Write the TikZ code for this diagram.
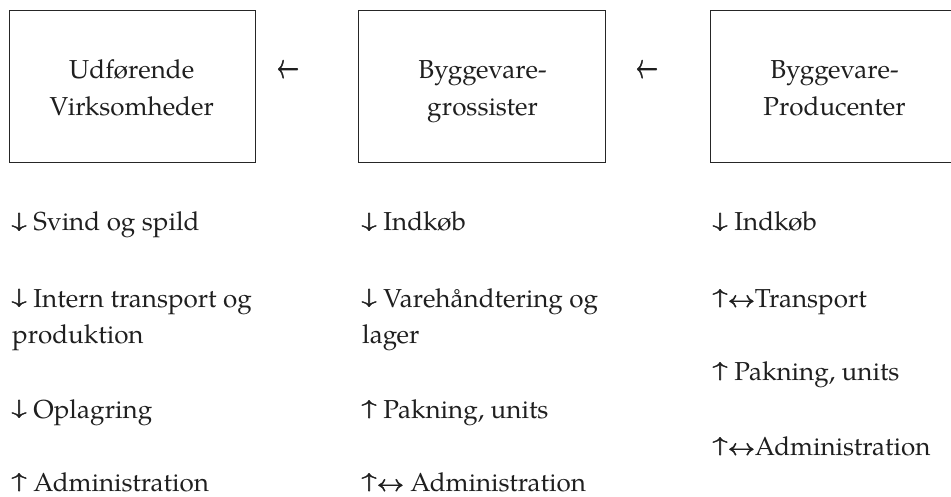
\documentclass[tikz,border=0pt]{standalone}
\usepackage{fontspec}
\usepackage{graphicx}
\setmainfont{texgyrepagella}[Extension=.otf, UprightFont=*-regular, BoldFont=*-bold, ItalicFont=*-italic, BoldItalicFont=*-bolditalic]
\newfontfamily\arrfont{latinmodern-math.otf}[FakeBold=2]
% vertical arrows sitting on the baseline, about cap height tall
\newcommand\adn{\raisebox{3.9pt}{\scalebox{1.55}[1]{\arrfont\fontsize{20.3}{20}\selectfont ↓}}}
\newcommand\aup{\raisebox{3.9pt}{\scalebox{1.55}[1]{\arrfont\fontsize{20.3}{20}\selectfont ↑}}}
\newcommand\alr{\scalebox{1}[0.85]{\arrfont\fontsize{27}{30}\selectfont ↔}}
\newcommand\alf{\scalebox{1}[1.6]{\arrfont\fontsize{22}{24}\selectfont ←}}
\tikzset{
  box/.style={draw=black!85, line width=1.1pt, minimum width=246.5pt, minimum height=152pt, inner sep=0pt, anchor=north west},
  lbl/.style={font=\fontsize{26}{36}\selectfont, inner sep=0pt, anchor=base, text=black!88},
  item/.style={lbl, anchor=base west},
  flow/.style={inner sep=0pt, anchor=base, text=black!88}
}
\begin{document}
\begin{tikzpicture}[x=1pt,y=-1pt]
\useasboundingbox (0,0) rectangle (951,497);
\clip (0,0) rectangle (951,497);
% boxes
\node[box] (b1) at (8.5,10) {};
\node[box] (b2) at (358,10) {};
\node[box] (b3) at (710,10) {};
% box texts
\node[lbl] (b1a) at (131.75,79) {Udførende};
\node[lbl] (b1b) at (131.75,116) {Virksomheder};
\node[lbl] (b2a) at (482.5,79) {Byggevare-};
\node[lbl] (b2b) at (482.5,116) {grossister};
\node[lbl] (b3a) at (834.5,79) {Byggevare-};
\node[lbl] (b3b) at (834.5,116) {Producenter};
% arrows between boxes
\node[flow] (f1) at (288,78) {\alf};
\node[flow] (f2) at (647,78) {\alf};
% column 1
\node[item] (c1a) at (11,231) {\adn\ Svind og spild};
\node[item] (c1b) at (11,307) {\adn\ Intern transport og};
\node[item] (c1c) at (12,343) {produktion};
\node[item] (c1d) at (11,418) {\adn\ Oplagring};
\node[item] (c1e) at (11,491) {\aup\ Administration};
% column 2
\node[item] (c2a) at (361,231) {\adn\ Indkøb};
\node[item] (c2b) at (361,307) {\adn\ Varehåndtering og};
\node[item] (c2c) at (362,343) {lager};
\node[item] (c2d) at (361,418) {\aup\ Pakning, units};
\node[item] (c2e) at (361,491) {\aup\alr\ Administration};
% column 3
\node[item] (c3a) at (712,231) {\adn\ Indkøb};
\node[item] (c3b) at (712,307) {\aup\alr Transport};
\node[item] (c3c) at (712,380) {\aup\ Pakning, units};
\node[item] (c3d) at (712,455) {\aup\alr Administration};
\end{tikzpicture}
\end{document}
